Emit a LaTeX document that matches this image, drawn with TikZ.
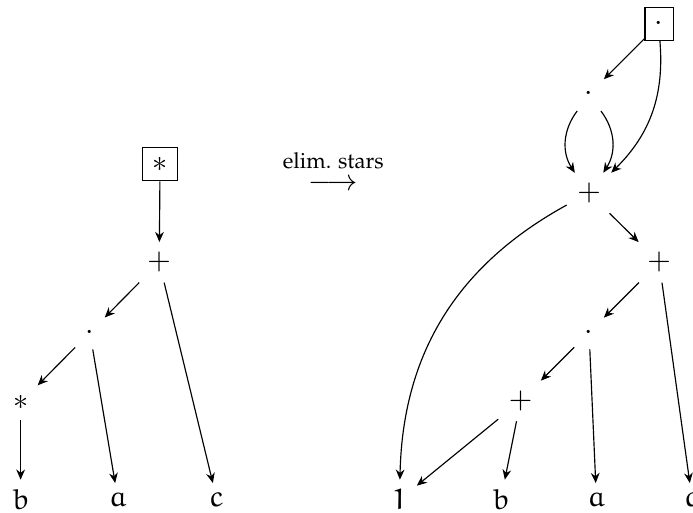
\documentclass[tikz,border=0pt]{standalone}
\usepackage[T1]{fontenc}
\usepackage{amsmath}
\IfFileExists{mathpazo.sty}{\usepackage{mathpazo}}{}
\IfFileExists{ueur.fd}{\def\eufont{\usefont{U}{eur}{m}{n}}}{\def\eufont{\itshape}}
\newcommand{\eu}[1]{{\eufont #1}}
\usetikzlibrary{arrows.meta}

\begin{document}
\begin{tikzpicture}[>={Stealth[length=3.5pt, width=3pt]}, root/.style={draw}]
	\useasboundingbox (0, 0) rectangle (8.40, 6.21);
	% Tree before:
	\node[root] (rootL) at (1.94, 4.22) {$\ast$};
	\node (plusL) at (1.93, 3.03) {$+$};
	\node (dotL) at (1.09, 2.18) {$\cdot$};
	\node (starL) at (0.25, 1.33) {$\ast$};
	\node (bL) at (0.25, 0.15) {\eu{b}};
	\node (aL) at (1.43, 0.15) {\eu{a}};
	\node (cL) at (2.63, 0.15) {\eu{c}};
	\draw[->] (rootL) -- (plusL);
	\draw[->] (plusL) -- (dotL);
	\draw[->] (plusL) -- (cL);
	\draw[->] (dotL) -- (starL);
	\draw[->] (dotL) -- (aL);
	\draw[->] (starL) -- (bL);
	% The rewriting step:
	\node (elim) at (4.04, 4.15) {$\overset{\text{elim. stars}\rule[-2.8pt]{0pt}{2.8pt}}{\longrightarrow}$};
	% Tree after:
	\node[root] (rootR) at (7.99, 5.92) {$\cdot$};
	\node (dotR1) at (7.14, 5.07) {$\cdot$};
	\node (plusR1) at (7.14, 3.87) {$+$};
	\node (plusR2) at (7.99, 3.03) {$+$};
	\node (dotR2) at (7.14, 2.18) {$\cdot$};
	\node (plusR3) at (6.31, 1.35) {$+$};
	\node (oneR) at (4.84, 0.15) {\eu{1}};
	\node (bR) at (6.07, 0.15) {\eu{b}};
	\node (aR) at (7.23, 0.15) {\eu{a}};
	\node (cR) at (8.39, 0.15) {\eu{c}};
	\draw[->] (rootR) -- (dotR1);
	\draw[->] (rootR) to[bend left=25] (plusR1);
	\draw[->] (dotR1) to[bend right=35] (plusR1);
	\draw[->] (dotR1) to[bend left=35] (plusR1);
	\draw[->] (plusR1) to[bend right=30] (oneR);
	\draw[->] (plusR1) -- (plusR2);
	\draw[->] (plusR2) -- (dotR2);
	\draw[->] (plusR2) -- (cR);
	\draw[->] (dotR2) -- (plusR3);
	\draw[->] (dotR2) -- (aR);
	\draw[->] (plusR3) -- (oneR);
	\draw[->] (plusR3) -- (bR);
\end{tikzpicture}
\end{document}
